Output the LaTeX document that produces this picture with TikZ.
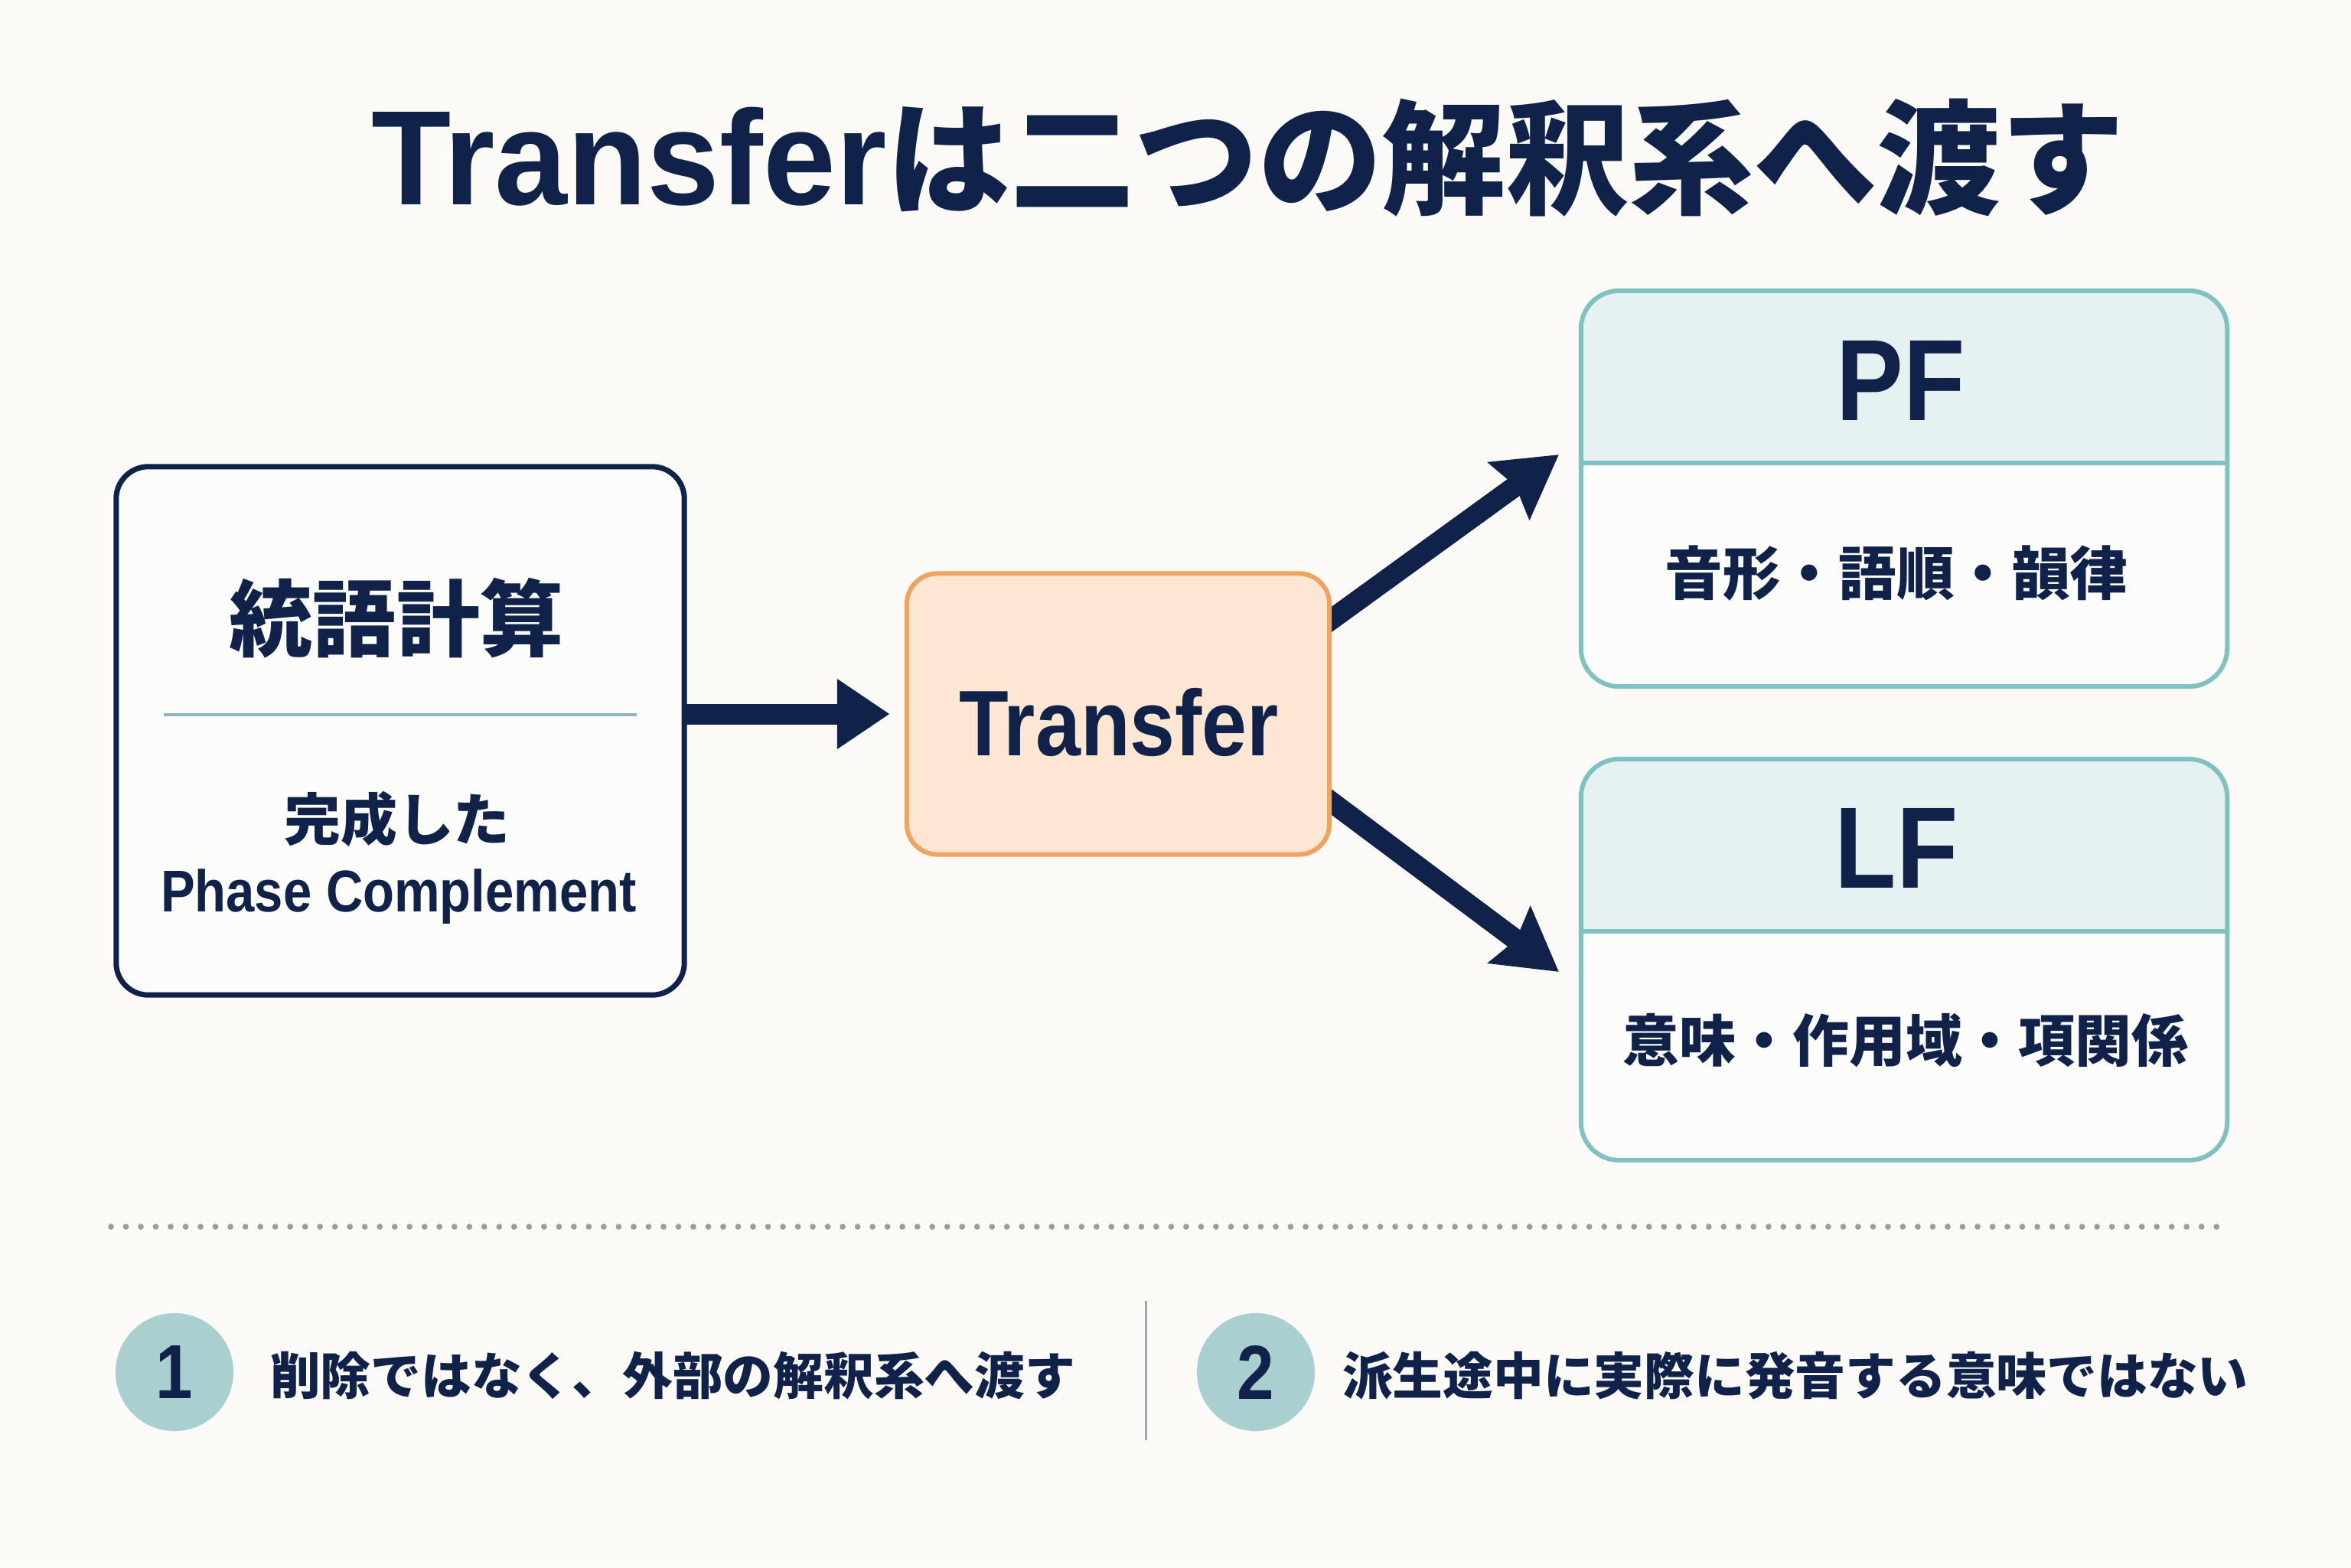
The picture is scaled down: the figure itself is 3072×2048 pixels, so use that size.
\documentclass[tikz,border=0pt]{standalone}
\usepackage{fontspec}
\setmainfont{Noto Sans CJK JP}
\newfontfamily\latcond{Liberation Sans}[FakeStretch=0.87]
\newfontfamily\latn{Liberation Sans}[FakeStretch=0.97]
\usetikzlibrary{arrows.meta,calc,backgrounds}
\definecolor{navy}{HTML}{10224A}
\definecolor{bg}{HTML}{FBFAF6}
\definecolor{peach}{HTML}{FDE6D2}
\definecolor{orangeb}{HTML}{F0A35E}
\definecolor{tealb}{HTML}{80C2C2}
\definecolor{hdr}{HTML}{E6F1F1}
\definecolor{bodyw}{HTML}{FCFCFA}
\definecolor{rulec}{HTML}{8DB4C4}
\definecolor{circ}{HTML}{A9CFD0}
\definecolor{sepc}{HTML}{A6A6A6}
\definecolor{dotc}{HTML}{9C9C9C}
\newcommand\setfs[1]{\fontsize{#1}{#1}\selectfont}
\begin{document}
\begin{tikzpicture}[x=0.01cm,y=-0.01cm,
  txt/.style={text=navy, inner sep=0pt, outer sep=0pt},
  synbox/.style={draw=navy, line width=0.07cm, fill=bodyw, rounded corners=0.42cm, inner sep=0pt, outer sep=0pt},
  trbox/.style={draw=orangeb, line width=0.06cm, fill=peach, rounded corners=0.4cm, inner sep=0pt, outer sep=0pt},
  ifbox/.style={fill=bodyw, rounded corners=0.5cm, inner sep=0pt, outer sep=0pt},
  ifborder/.style={draw=tealb, line width=0.06cm, rounded corners=0.5cm},
  numc/.style={circle, fill=circ, minimum size=1.54cm, inner sep=0pt, text=navy, font=\latcond\bfseries\setfs{28.5pt}},
  arr/.style={draw=navy, line width=0.27cm}
]
\useasboundingbox (0,0) rectangle (3072,2048);

% title
\node[txt, anchor=base, font=\bfseries\setfs{46pt}] (title) at (1631,267) {{\latn\setfs{50pt}Transfer}は二つの解釈系へ渡す};

% left box
\node[synbox, minimum width=7.42cm, minimum height=6.90cm] (syn) at (523,955) {};
\node[txt, anchor=base, font=\bfseries\setfs{31pt}] (synt) at (518,849) {統語計算};
\draw[rulec, line width=0.04cm] (214,934) -- (832,934);
\node[txt, anchor=base, font=\bfseries\setfs{21pt}] (syn2) at (519,1098) {完成した};
\node[txt, anchor=base, font=\latcond\bfseries\setfs{21.9pt}] (syn3) at (521,1191) {Phase Complement};

% transfer box
\node[trbox, minimum width=5.52cm, minimum height=3.67cm] (tr) at (1461,933) {};
\node[txt, anchor=base, font=\latcond\bfseries\setfs{34.6pt}] (trt) at (1462,987) {Transfer};

% PF box
\node[ifbox, minimum width=8.44cm, minimum height=5.17cm] (pf) at (2488,638.5) {};
\begin{scope}
  \clip[rounded corners=0.5cm] (pf.south west) rectangle (pf.north east);
  \fill[hdr] (pf.north west) rectangle (pf.east |- 0,605);
\end{scope}
\draw[tealb, line width=0.06cm] (pf.west |- 0,605) -- (pf.east |- 0,605);
\draw[ifborder] (pf.south west) rectangle (pf.north east);
\node[txt, anchor=base, font=\latcond\bfseries\setfs{43pt}] (pft) at (2484,549) {PF};
\node[txt, anchor=base, font=\bfseries\setfs{21.5pt}] (pfb) at (2478,777) {音形・語順・韻律};

% LF box
\node[ifbox, minimum width=8.44cm, minimum height=5.24cm] (lf) at (2488,1254) {};
\begin{scope}
  \clip[rounded corners=0.5cm] (lf.south west) rectangle (lf.north east);
  \fill[hdr] (lf.north west) rectangle (lf.east |- 0,1217);
\end{scope}
\draw[tealb, line width=0.06cm] (lf.west |- 0,1217) -- (lf.east |- 0,1217);
\draw[ifborder] (lf.south west) rectangle (lf.north east);
\node[txt, anchor=base, font=\latcond\bfseries\setfs{43pt}] (lft) at (2478,1160) {LF};
\node[txt, anchor=base, font=\bfseries\setfs{21pt}] (lfb) at (2490,1387) {意味・作用域・項関係};

% arrows (behind the boxes)
\coordinate (pfin) at (2037,594);
\coordinate (lfin) at (2037,1270);
\begin{pgfonlayer}{background}
  \fill[bg] (0,0) rectangle (3072,2048);
  \draw[arr, -{Triangle[length=0.69cm,width=0.87cm]}] ([xshift=-0.2cm]syn.east |- tr.west) -- ([xshift=-0.22cm]tr.west);
  \draw[arr, -{Stealth[length=0.8cm,width=0.9cm,inset=0.1cm]}] ([xshift=-0.2cm,yshift=1.07cm]tr.east) -- (pfin);
  \draw[arr, -{Stealth[length=0.8cm,width=0.9cm,inset=0.1cm]}] ([xshift=-0.2cm,yshift=-0.98cm]tr.east) -- (lfin);
\end{pgfonlayer}

% dotted separator
\draw[dotc, line width=0.077cm, line cap=round, dash pattern=on 0pt off 0.195cm] (145,1603) -- (2909,1603);

% bottom notes
\node[numc] (c1) at (228,1793) {1};
\node[txt, anchor=base west, font=\bfseries\setfs{18.7pt}] (n1) at (353,1822) {削除ではなく、外部の解釈系へ渡す};
\draw[sepc, line width=0.03cm] (1497,1700) -- (1497,1882);
\node[numc] (c2) at (1641,1793) {2};
\node[txt, anchor=base west, font=\bfseries\setfs{18.7pt}] (n2) at (1754,1822) {派生途中に実際に発音する意味ではない};
\end{tikzpicture}
\end{document}
